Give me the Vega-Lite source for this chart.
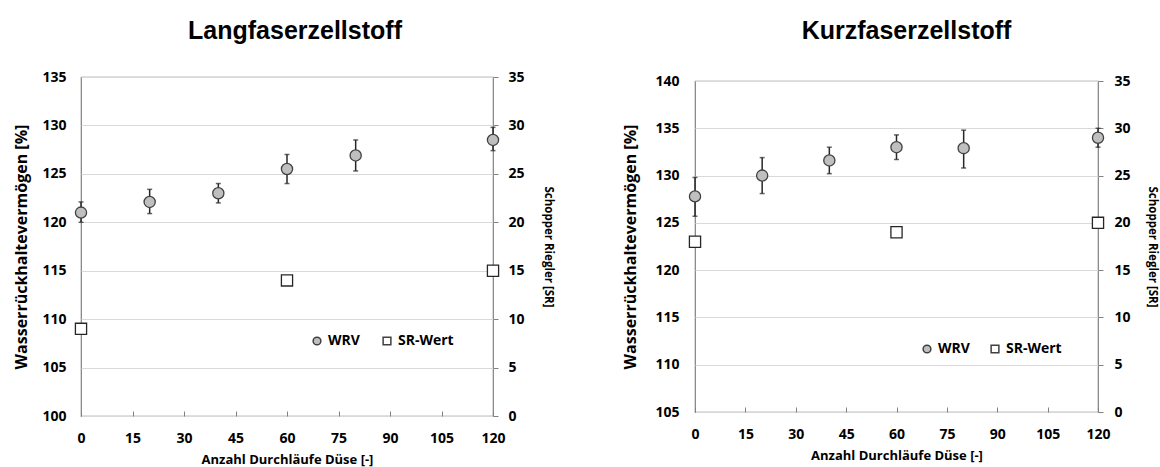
{
  "$schema": "https://vega.github.io/schema/vega-lite/v6.json",
  "background": "white",
  "padding": {"left": 13, "top": 19, "right": 2, "bottom": 0},
  "datasets": {
    "lang_wrv": [
      {"x": 0, "wrv": 121.0, "lo": 120.0, "hi": 122.1, "series": "WRV"},
      {"x": 20, "wrv": 122.1, "lo": 120.9, "hi": 123.4, "series": "WRV"},
      {"x": 40, "wrv": 123.0, "lo": 122.0, "hi": 124.0, "series": "WRV"},
      {"x": 60, "wrv": 125.5, "lo": 124.0, "hi": 127.0, "series": "WRV"},
      {"x": 80, "wrv": 126.9, "lo": 125.3, "hi": 128.5, "series": "WRV"},
      {"x": 120, "wrv": 128.5, "lo": 127.4, "hi": 129.8, "series": "WRV"}
    ],
    "lang_sr": [
      {"x": 0, "sr": 9, "series": "SR-Wert"},
      {"x": 60, "sr": 14, "series": "SR-Wert"},
      {"x": 120, "sr": 15, "series": "SR-Wert"}
    ],
    "kurz_wrv": [
      {"x": 0, "wrv": 127.8, "lo": 125.7, "hi": 129.8, "series": "WRV"},
      {"x": 20, "wrv": 130.0, "lo": 128.1, "hi": 131.9, "series": "WRV"},
      {"x": 40, "wrv": 131.6, "lo": 130.2, "hi": 133.0, "series": "WRV"},
      {"x": 60, "wrv": 133.0, "lo": 131.7, "hi": 134.3, "series": "WRV"},
      {"x": 80, "wrv": 132.9, "lo": 130.8, "hi": 134.8, "series": "WRV"},
      {"x": 120, "wrv": 134.0, "lo": 133.0, "hi": 135.0, "series": "WRV"}
    ],
    "kurz_sr": [
      {"x": 0, "sr": 18, "series": "SR-Wert"},
      {"x": 60, "sr": 19, "series": "SR-Wert"},
      {"x": 120, "sr": 20, "series": "SR-Wert"}
    ]
  },
  "concat": [
    {
      "vconcat": [
        {
          "width": 412,
          "height": 1,
          "title": {"text": "Langfaserzellstoff", "offset": 21, "dx": 8},
          "view": {"stroke": null},
          "data": {"values": []},
          "mark": {"type": "point"},
          "encoding": {}
        },
        {
          "width": 412,
          "height": 339,
          "layer": [
            {
              "data": {"name": "lang_wrv"},
              "mark": {"type": "errorbar", "ticks": {"size": 5}, "thickness": 1.5, "color": "#262626"},
              "encoding": {
                "x": {"field": "x", "type": "quantitative", "scale": {"domain": [0, 120], "nice": false},
                  "axis": {"values": [0, 15, 30, 45, 60, 75, 90, 105, 120], "title": "Anzahl Durchläufe Düse [-]", "tickSize": -5, "tickColor": "#808080", "labelPadding": 20, "labelFlush": false, "domain": false, "grid": false, "titlePadding": 8, "titleFontSize": 13}},
                "y": {"field": "lo", "type": "quantitative", "scale": {"domain": [100, 135], "nice": false, "zero": false},
                  "axis": {"orient": "left", "title": "Wasserrückhaltevermögen [%]", "values": [100, 105, 110, 115, 120, 125, 130, 135], "grid": true, "gridColor": "#d9d9d9", "gridWidth": 1, "ticks": false, "domain": false, "labelPadding": 15, "titlePadding": 12, "titleFontSize": 16}},
                "y2": {"field": "hi"}
              }
            },
            {
              "data": {"name": "lang_wrv"},
              "mark": {"type": "point", "filled": true, "opacity": 1, "stroke": "#404040", "strokeWidth": 1.3, "size": 125},
              "encoding": {
                "x": {"field": "x", "type": "quantitative", "scale": {"domain": [0, 120], "nice": false}},
                "y": {"field": "wrv", "type": "quantitative", "scale": {"domain": [100, 135], "nice": false, "zero": false}, "axis": null},
                "shape": {"field": "series", "type": "nominal", "scale": {"domain": ["WRV", "SR-Wert"], "range": ["circle", "square"]},
                  "legend": {"orient": "none", "legendX": 229, "legendY": 269, "direction": "horizontal", "title": null, "padding": 0, "columnPadding": 20, "labelOffset": 4, "symbolSize": 60,
                    "encode": {"symbols": {"update": {"stroke": {"value": "#404040"}, "strokeWidth": {"value": 1}}}}}},
                "fill": {"field": "series", "type": "nominal", "scale": {"domain": ["WRV", "SR-Wert"], "range": ["#bfbfbf", "#ffffff"]},
                  "legend": {"orient": "none", "legendX": 229, "legendY": 269, "direction": "horizontal", "title": null, "padding": 0, "columnPadding": 20, "labelOffset": 4, "symbolSize": 60,
                    "encode": {"symbols": {"update": {"stroke": {"value": "#404040"}, "strokeWidth": {"value": 1}}}}}}
              }
            },
            {
              "data": {"name": "lang_sr"},
              "mark": {"type": "point", "filled": true, "opacity": 1, "stroke": "#262626", "strokeWidth": 1.3, "size": 125},
              "encoding": {
                "x": {"field": "x", "type": "quantitative", "scale": {"domain": [0, 120], "nice": false}},
                "y": {"field": "sr", "type": "quantitative", "scale": {"domain": [0, 35], "nice": false},
                  "axis": {"orient": "right", "title": "Schopper Riegler [SR]", "values": [0, 5, 10, 15, 20, 25, 30, 35], "grid": false, "ticks": true, "tickSize": 5, "tickColor": "#808080", "domain": false, "labelPadding": 10, "titlePadding": 18, "titleFontSize": 11.5}},
                "shape": {"field": "series", "type": "nominal", "scale": {"domain": ["WRV", "SR-Wert"], "range": ["circle", "square"]},
                  "legend": {"orient": "none", "legendX": 229, "legendY": 269, "direction": "horizontal", "title": null, "padding": 0, "columnPadding": 20, "labelOffset": 4, "symbolSize": 60,
                    "encode": {"symbols": {"update": {"stroke": {"value": "#404040"}, "strokeWidth": {"value": 1}}}}}},
                "fill": {"field": "series", "type": "nominal", "scale": {"domain": ["WRV", "SR-Wert"], "range": ["#bfbfbf", "#ffffff"]},
                  "legend": {"orient": "none", "legendX": 229, "legendY": 269, "direction": "horizontal", "title": null, "padding": 0, "columnPadding": 20, "labelOffset": 4, "symbolSize": 60,
                    "encode": {"symbols": {"update": {"stroke": {"value": "#404040"}, "strokeWidth": {"value": 1}}}}}}
              }
            }
          ],
          "resolve": {"scale": {"y": "independent"}}
        }
      ],
      "spacing": 3
    },
    {
      "vconcat": [
        {
          "width": 403,
          "height": 1,
          "title": {"text": "Kurzfaserzellstoff", "offset": 21, "dx": 10},
          "view": {"stroke": null},
          "data": {"values": []},
          "mark": {"type": "point"},
          "encoding": {}
        },
        {
          "width": 403,
          "height": 331,
          "layer": [
            {
              "data": {"name": "kurz_wrv"},
              "mark": {"type": "errorbar", "ticks": {"size": 5}, "thickness": 1.5, "color": "#262626"},
              "encoding": {
                "x": {"field": "x", "type": "quantitative", "scale": {"domain": [0, 120], "nice": false},
                  "axis": {"values": [0, 15, 30, 45, 60, 75, 90, 105, 120], "title": "Anzahl Durchläufe Düse [-]", "tickSize": -5, "tickColor": "#808080", "labelPadding": 20, "labelFlush": false, "domain": false, "grid": false, "titlePadding": 8, "titleFontSize": 13}},
                "y": {"field": "lo", "type": "quantitative", "scale": {"domain": [105, 140], "nice": false, "zero": false},
                  "axis": {"orient": "left", "title": "Wasserrückhaltevermögen [%]", "values": [105, 110, 115, 120, 125, 130, 135, 140], "grid": true, "gridColor": "#d9d9d9", "gridWidth": 1, "ticks": false, "domain": false, "labelPadding": 16, "titlePadding": 16, "titleFontSize": 16}},
                "y2": {"field": "hi"}
              }
            },
            {
              "data": {"name": "kurz_wrv"},
              "mark": {"type": "point", "filled": true, "opacity": 1, "stroke": "#404040", "strokeWidth": 1.3, "size": 125},
              "encoding": {
                "x": {"field": "x", "type": "quantitative", "scale": {"domain": [0, 120], "nice": false}},
                "y": {"field": "wrv", "type": "quantitative", "scale": {"domain": [105, 140], "nice": false, "zero": false}, "axis": null},
                "shape": {"field": "series", "type": "nominal", "scale": {"domain": ["WRV", "SR-Wert"], "range": ["circle", "square"]},
                  "legend": {"orient": "none", "legendX": 225, "legendY": 277, "direction": "horizontal", "title": null, "padding": 0, "columnPadding": 18, "labelOffset": 4, "symbolSize": 60,
                    "encode": {"symbols": {"update": {"stroke": {"value": "#404040"}, "strokeWidth": {"value": 1}}}}}},
                "fill": {"field": "series", "type": "nominal", "scale": {"domain": ["WRV", "SR-Wert"], "range": ["#bfbfbf", "#ffffff"]},
                  "legend": {"orient": "none", "legendX": 225, "legendY": 277, "direction": "horizontal", "title": null, "padding": 0, "columnPadding": 18, "labelOffset": 4, "symbolSize": 60,
                    "encode": {"symbols": {"update": {"stroke": {"value": "#404040"}, "strokeWidth": {"value": 1}}}}}}
              }
            },
            {
              "data": {"name": "kurz_sr"},
              "mark": {"type": "point", "filled": true, "opacity": 1, "stroke": "#262626", "strokeWidth": 1.3, "size": 125},
              "encoding": {
                "x": {"field": "x", "type": "quantitative", "scale": {"domain": [0, 120], "nice": false}},
                "y": {"field": "sr", "type": "quantitative", "scale": {"domain": [0, 35], "nice": false},
                  "axis": {"orient": "right", "title": "Schopper Riegler [SR]", "values": [0, 5, 10, 15, 20, 25, 30, 35], "grid": false, "ticks": true, "tickSize": 5, "tickColor": "#808080", "domain": false, "labelPadding": 11, "titlePadding": 16, "titleFontSize": 11.5}},
                "shape": {"field": "series", "type": "nominal", "scale": {"domain": ["WRV", "SR-Wert"], "range": ["circle", "square"]},
                  "legend": {"orient": "none", "legendX": 225, "legendY": 277, "direction": "horizontal", "title": null, "padding": 0, "columnPadding": 18, "labelOffset": 4, "symbolSize": 60,
                    "encode": {"symbols": {"update": {"stroke": {"value": "#404040"}, "strokeWidth": {"value": 1}}}}}},
                "fill": {"field": "series", "type": "nominal", "scale": {"domain": ["WRV", "SR-Wert"], "range": ["#bfbfbf", "#ffffff"]},
                  "legend": {"orient": "none", "legendX": 225, "legendY": 277, "direction": "horizontal", "title": null, "padding": 0, "columnPadding": 18, "labelOffset": 4, "symbolSize": 60,
                    "encode": {"symbols": {"update": {"stroke": {"value": "#404040"}, "strokeWidth": {"value": 1}}}}}}
              }
            }
          ],
          "resolve": {"scale": {"y": "independent"}}
        }
      ],
      "spacing": 7
    }
  ],
  "columns": 2,
  "align": "none",
  "spacing": 68,
  "resolve": {"scale": {"shape": "independent", "fill": "independent"}},
  "config": {
    "font": "Open Sans",
    "axis": {"labelFont": "Open Sans", "labelFontWeight": "bold", "labelFontSize": 14, "labelColor": "#000000", "titleFont": "Open Sans", "titleFontWeight": "bold", "titleColor": "#000000"},
    "legend": {"labelFont": "Open Sans", "labelFontWeight": "bold", "labelFontSize": 14, "labelColor": "#000000"},
    "view": {"stroke": "#808080", "strokeWidth": 1.2},
    "title": {"font": "Liberation Sans", "fontSize": 25, "fontWeight": "bold", "color": "#000000", "anchor": "middle"}
  }
}
